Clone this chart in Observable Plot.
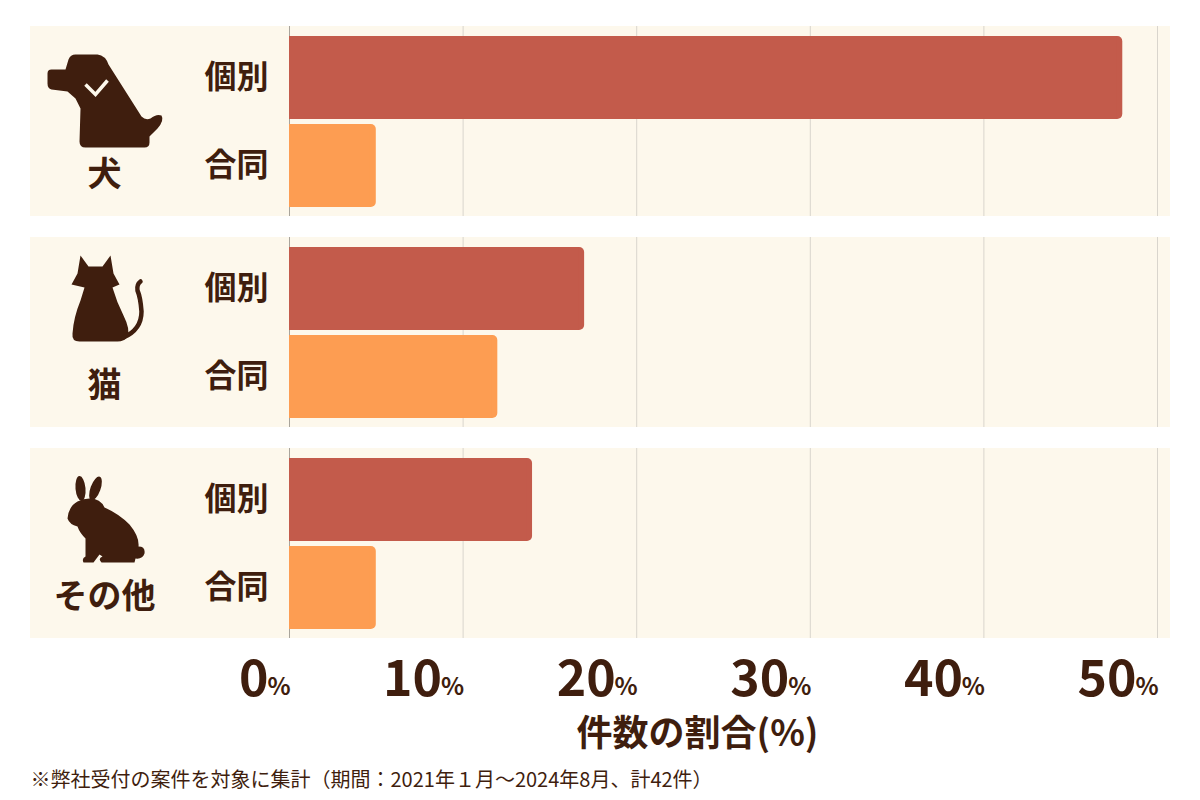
<!DOCTYPE html>
<html>
<head>
<meta charset="utf-8">
<script src="https://cdn.jsdelivr.net/npm/d3@7"></script>
<script src="https://cdn.jsdelivr.net/npm/@observablehq/plot@0.6"></script>
<style>
  body { margin: 0; background: #ffffff; }
  #chart svg { display: block; }
</style>
</head>
<body>
<div id="chart"></div>
<script>
// ---- data ----
const animals = ["犬", "猫", "その他"];
const types = ["個別", "合同"];
const individualShare = [48, 17, 14];   // 個別 (%)
const jointShare = [5, 12, 5];          // 合同 (%)
const xTicks = [0, 10, 20, 30, 40, 50];
const axisTitle = "件数の割合(%)";
const caption = "※弊社受付の案件を対象に集計（期間：2021年１月～2024年8月、計42件）";

// ---- styles ----
const brown = "#3f1e0e";
const panel = "#fdf8ec";
const red = "#c35b4b";
const orange = "#fd9d52";
const gridColor = "#d9d5cd";
const zeroColor = "#a9a49b";
const font = "'Noto Sans CJK JP', 'Noto Sans', sans-serif";

const rows = animals.flatMap((a, i) => [
  {animal: a, type: types[0], value: individualShare[i]},
  {animal: a, type: types[1], value: jointShare[i]}
]);

// ---- icons (silhouettes) ----
function svgURI(inner) {
  const s = `<svg xmlns="http://www.w3.org/2000/svg" width="120" height="120" viewBox="0 0 120 120">${inner}</svg>`;
  return "data:image/svg+xml;charset=utf-8," + encodeURIComponent(s);
}
const icons = {
  "犬": svgURI(
    `<path fill="${brown}" d="M2 37 Q2 33 6 33 L20 33 L23 23 Q25 18 30 18 L52 18 Q60 19 63 28 L96 80 Q100 84 105 82 Q111 77 116 79 Q119 84 112 92 Q107 97 104 100 L104 106 Q104 111 99 111 L40 111 Q34 111 34 105 L35 72 L30 62 L22 55 L6 53 Q2 52 2 47 Z"/>` +
    `<polyline points="40,48 50,58 62,44" fill="none" stroke="${panel}" stroke-width="3.5" stroke-linejoin="miter"/>`
  ),
  "猫": svgURI(
    `<path fill="${brown}" d="M35 8 L43 19 L57 19 L65 8 L68 26 L74 37 L67 40 Q71 54 78 68 Q85 82 82 89 Q79 94 72 94 L34 94 Q26 94 27 86 Q28 70 35 53 L39 40 L26 37 L32 26 Z"/>` +
    `<path d="M78 90 Q96 82 96 64 Q95 50 92 43 Q91 37 95 34" fill="none" stroke="${brown}" stroke-width="4.5" stroke-linecap="round"/>`
  ),
  "その他": svgURI(
    `<ellipse fill="${brown}" cx="35" cy="30" rx="5" ry="12.5" transform="rotate(-5 35 30)"/>` +
    `<ellipse fill="${brown}" cx="50" cy="30" rx="5" ry="12.5" transform="rotate(20 50 30)"/>` +
    `<path fill="${brown}" d="M44 40 Q55 40 59 49 Q73 55 84 66 Q94 78 93 88 Q100 88 99 95 Q97 101 90 100 L89 104 L56 104 Q52 100 57 98 L54 96 L48 104 L38 104 Q36 100 40 98 L40 80 Q34 74 32 68 Q24 66 22 60 Q23 48 32 43 Q38 40 44 40 Z"/>`
  )
};

const lastFacet = animals[animals.length - 1];

const chart = Plot.plot({
  width: 1200,
  height: 800,
  marginTop: 26,
  marginBottom: 162,
  marginLeft: 289,
  marginRight: 43,
  style: {fontFamily: font, background: "#ffffff", color: brown},
  x: {domain: [xTicks[0], xTicks[xTicks.length - 1]], axis: null},
  y: {domain: types, paddingInner: 0.057, paddingOuter: 0.108, axis: null},
  fy: {domain: animals, paddingInner: 0.1, paddingOuter: 0, axis: null},
  color: {domain: types, range: [red, orange]},
  marks: [
    // cream panels
    Plot.rect(animals, {fy: d => d, x1: xTicks[0], x2: xTicks[xTicks.length - 1], fill: panel, insetLeft: -259, insetRight: -13}),
    // grid
    Plot.ruleX(xTicks.filter(d => d > 0), {stroke: gridColor, strokeWidth: 1}),
    Plot.ruleX([0], {stroke: zeroColor, strokeWidth: 1}),
    // bars (rounded right corners)
    Plot.barX(rows, {x: "value", y: "type", fy: "animal", fill: "type", rx: 5}),
    Plot.barX(rows, {x: "value", y: "type", fy: "animal", fill: "type", insetRight: 6}),
    // y labels
    Plot.axisY({tickSize: 0, tickPadding: 21, fontSize: 32, fontWeight: "bold", fill: brown, label: null}),
    // icons
    Plot.image(animals, {fy: d => d, src: d => icons[d], frameAnchor: "top-left", dx: -184, dy: 70, width: 120, height: 120}),
    // animal labels
    Plot.text(animals, {fy: d => d, text: d => d, frameAnchor: "top-left", dx: -185, dy: 149, fontSize: 34, fontWeight: "bold", fill: brown, textAnchor: "middle", lineAnchor: "middle"}),
    // x tick labels (number + small %)
    Plot.text(xTicks, {x: d => d, fy: () => lastFacet, text: d => String(d), frameAnchor: "bottom", dx: -21, dy: 41, fontSize: 50, fontWeight: "bold", fill: brown, textAnchor: "end", lineAnchor: "middle"}),
    Plot.text(xTicks, {x: d => d, fy: () => lastFacet, text: () => "%", frameAnchor: "bottom", dx: 1, dy: 49, fontSize: 24, fontWeight: "bold", fill: brown, textAnchor: "end", lineAnchor: "middle"}),
    // axis title
    Plot.text([axisTitle], {fy: () => lastFacet, text: d => d, frameAnchor: "bottom", dx: -26, dy: 96, fontSize: 36, fontWeight: "bold", fill: brown, textAnchor: "middle", lineAnchor: "middle"}),
    // caption
    Plot.text([caption], {fy: () => lastFacet, text: d => d, frameAnchor: "bottom-left", dx: -259, dy: 142, fontSize: 20, fill: brown, textAnchor: "start", lineAnchor: "middle"})
  ]
});

document.getElementById("chart").appendChild(chart);
</script>
</body>
</html>
